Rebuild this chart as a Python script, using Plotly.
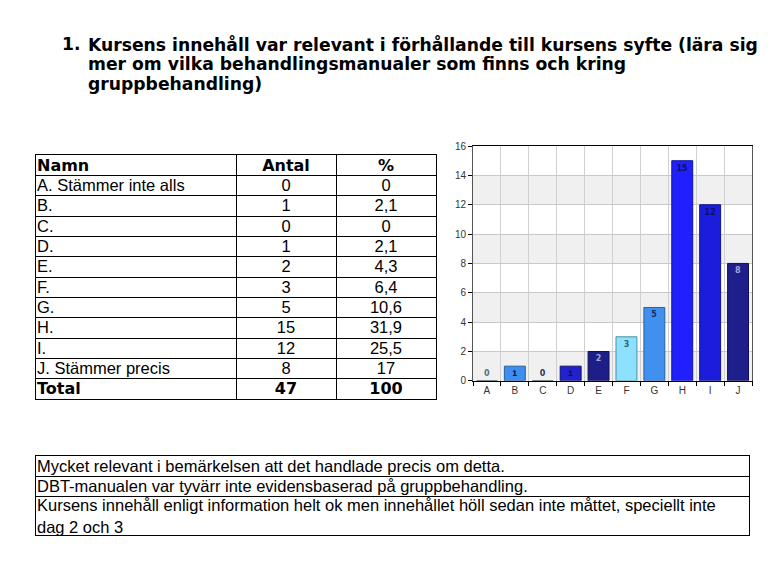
import itertools
import plotly.graph_objects as go

# ---------------- data ----------------
categories = ["A", "B", "C", "D", "E", "F", "G", "H", "I", "J"]
names = ["A. Stämmer inte alls", "B.", "C.", "D.", "E.", "F.", "G.", "H.", "I.", "J. Stämmer precis"]
counts = [0, 1, 0, 1, 2, 3, 5, 15, 12, 8]
percents = [0, 2.1, 0, 2.1, 4.3, 6.4, 10.6, 31.9, 25.5, 17]
total_count = 47
total_pct = 100
table_header = ["Namn", "Antal", "%"]
comments = [
    "Mycket relevant i bemärkelsen att det handlade precis om detta.",
    "DBT-manualen var tyvärr inte evidensbaserad på gruppbehandling.",
    "Kursens innehåll enligt information helt ok men innehållet höll sedan inte måttet, speciellt inte<br>dag 2 och 3",
]
title_number = "1."
title_lines = [
    "Kursens innehåll var relevant i förhållande till kursens syfte (lära sig",
    "mer om vilka behandlingsmanualer som finns och kring",
    "gruppbehandling)",
]

# ---------------- styles ----------------
bar_colors = ["#8a8aa0", "#3d8ef0", "#8a8aa0", "#2222cc", "#1e1e88", "#8ee0ff",
              "#4090f0", "#2020ff", "#1c1cdc", "#1e1e8c"]
bar_lines = ["#506070", "#2a60a0", "#506070", "#101070", "#101050", "#4a90a0",
             "#2a60a0", "#1010a0", "#101090", "#101050"]
label_colors = ["#507080", "#101050", "#303060", "#101050", "#a0a0e0", "#306878",
                "#1a2a6a", "#101060", "#101060", "#a8a8d8"]

# page body has an 8px margin; figure is sized to the visible area
FW, FH, OFF = 764, 551, 8


def px_x(p):
    return (p - OFF) / FW


def px_y(p):
    return 1 - (p - OFF) / FH


fig = go.Figure()

# ---------------- bar chart ----------------
fig.add_trace(go.Bar(
    x=categories, y=counts,
    text=[str(c) for c in counts],
    texttemplate="<b>%{text}</b>",
    textposition=["inside" if c > 0 else "outside" for c in counts],
    insidetextanchor="end",
    textangle=0,
    textfont=dict(size=8, color=label_colors, family="DejaVu Sans"),
    marker=dict(color=bar_colors, line=dict(color=bar_lines, width=1)),
    cliponaxis=False, showlegend=False, hoverinfo="skip",
    xaxis="x", yaxis="y",
))

# ---------------- left summary table (drawn on hidden axes x2/y2) ----------------
col_widths = [200, 100, 100]
col_edges = [0] + list(itertools.accumulate(col_widths))
pct_str = [f"{p:g}".replace(".", ",") for p in percents]
n = len(names)
n_rows = n + 2
row_y = [i + 0.56 for i in range(n_rows)]
bold_fam = ["DejaVu Sans"] + ["Liberation Sans"] * n + ["DejaVu Sans"]
bold_size = [16] + [16.5] * n + [16]

columns_text = [
    [f"<b>{table_header[0]}</b>"] + names + ["<b>Total</b>"],
    [f"<b>{table_header[1]}</b>"] + [str(c) for c in counts] + [f"<b>{total_count}</b>"],
    [f"<b>{table_header[2]}</b>"] + pct_str + [f"<b>{total_pct}</b>"],
]
for ci, col_text in enumerate(columns_text):
    if ci == 0:
        xs = [col_edges[0] + 1] * n_rows
        pos = "middle right"
    else:
        xs = [(col_edges[ci] + col_edges[ci + 1]) / 2] * n_rows
        pos = "middle center"
    fig.add_trace(go.Scatter(
        x=xs, y=row_y, text=col_text, mode="text", textposition=pos,
        textfont=dict(family=bold_fam, size=bold_size, color="black"),
        cliponaxis=False, showlegend=False, hoverinfo="skip",
        xaxis="x2", yaxis="y2",
    ))

# ---------------- comments table (hidden axes x3/y3) ----------------
comment_row_h = [20.5, 20.5, 40]
comment_edges = [0] + list(itertools.accumulate(comment_row_h))
comment_y = [(comment_edges[i] + comment_edges[i + 1]) / 2 + 2 for i in range(len(comments))]
fig.add_trace(go.Scatter(
    x=[1.5] * len(comments), y=comment_y, text=comments, mode="text",
    textposition="middle right",
    textfont=dict(family="Liberation Sans", size=16.5, color="black"),
    cliponaxis=False, showlegend=False, hoverinfo="skip",
    xaxis="x3", yaxis="y3",
))

# ---------------- background bands ----------------
shapes = []
for y0 in range(0, 16, 4):
    shapes.append(dict(type="rect", xref="x domain", yref="y", x0=0, x1=1, y0=y0, y1=y0 + 2,
                       fillcolor="#f0f0f0", line=dict(width=0), layer="below"))

# ---------------- title ----------------
TITLE_SIZE = 17.2
title_top = 26
line_gap = 20.5
annotations = [dict(text=f"<b>{title_number}</b>", x=px_x(60), y=px_y(title_top),
                    xref="paper", yref="paper", xanchor="left", yanchor="top",
                    showarrow=False, font=dict(family="DejaVu Sans", size=TITLE_SIZE, color="black"))]
for i, line in enumerate(title_lines):
    annotations.append(dict(text=f"<b>{line}</b>", x=px_x(86), y=px_y(title_top + i * line_gap),
                            xref="paper", yref="paper", xanchor="left", yanchor="top",
                            showarrow=False, align="left",
                            font=dict(family="DejaVu Sans", size=TITLE_SIZE, color="black")))

hidden = dict(showticklabels=False, ticks="", zeroline=False, fixedrange=True,
              showline=True, linecolor="black", linewidth=1, mirror=True,
              showgrid=True, gridcolor="black", gridwidth=1, tickmode="array")

fig.update_layout(
    width=FW, height=FH,
    margin=dict(l=0, r=0, t=0, b=0),
    paper_bgcolor="white", plot_bgcolor="white",
    bargap=0.25,
    shapes=shapes,
    annotations=annotations,
    xaxis=dict(domain=[px_x(473), px_x(752)], type="category", tickson="boundaries",
               showgrid=True, gridcolor="#d0d0d0", gridwidth=1,
               ticks="outside", ticklen=4, tickcolor="black",
               showline=True, linecolor="black", linewidth=1, mirror=True,
               tickfont=dict(family="Liberation Sans", size=10, color="#333"),
               fixedrange=True, anchor="y"),
    yaxis=dict(domain=[px_y(383), px_y(143)], range=[0, 16], dtick=2,
               showgrid=True, gridcolor="#c8c8c8", gridwidth=1, zeroline=False,
               ticks="outside", ticklen=4, tickcolor="black",
               showline=True, linecolor="#555", linewidth=1, mirror=True,
               tickfont=dict(family="Liberation Sans", size=10, color="#333"),
               fixedrange=True, anchor="x"),
    xaxis2=dict(hidden, domain=[px_x(36), px_x(436)], range=[col_edges[0], col_edges[-1]],
                tickvals=col_edges, anchor="y2"),
    yaxis2=dict(hidden, domain=[px_y(401.5), px_y(152.5)], range=[n_rows, 0],
                tickvals=list(range(n_rows + 1)), anchor="x2"),
    xaxis3=dict(hidden, domain=[px_x(35.5), px_x(748.5)], range=[0, 713],
                tickvals=[0, 713], anchor="y3"),
    yaxis3=dict(hidden, domain=[px_y(541), px_y(460)], range=[comment_edges[-1], 0],
                tickvals=comment_edges, anchor="x3"),
)

fig.write_html("out.html")
